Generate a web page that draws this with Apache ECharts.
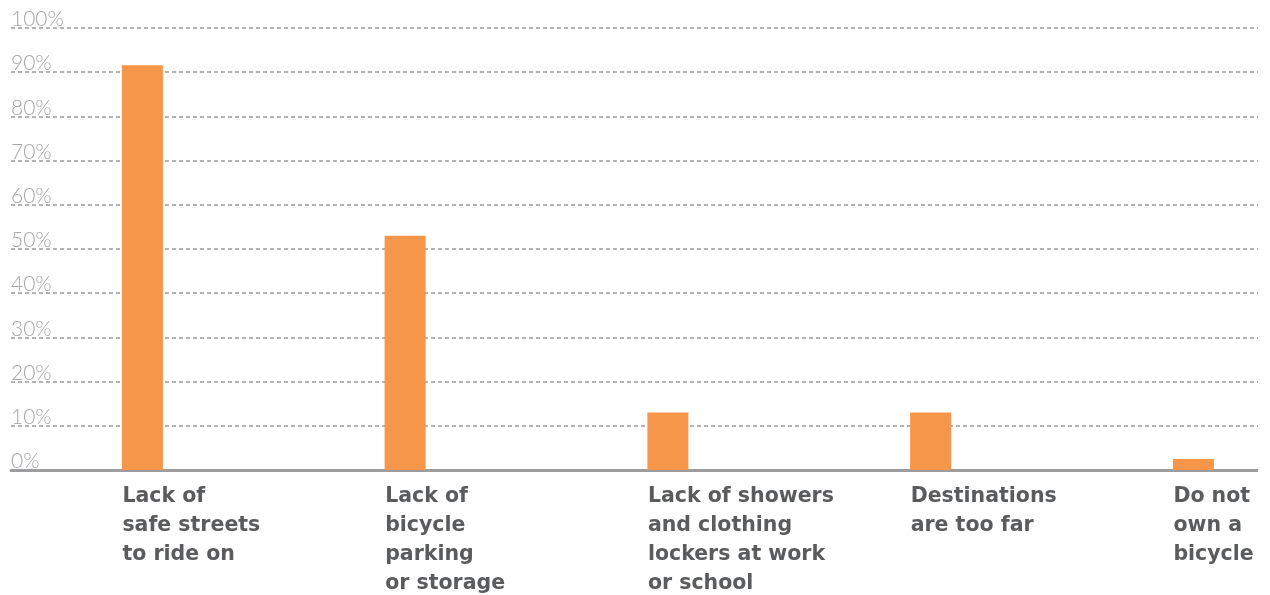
<!DOCTYPE html>
<html>
<head>
<meta charset="utf-8">
<script src="https://cdn.jsdelivr.net/npm/echarts@6/dist/echarts.min.js"></script>
<style>
  html, body { margin: 0; padding: 0; background: #ffffff; overflow: hidden; }
  /* the plot runs past the right edge; the frame trims it */
  #frame { width: 1258px; height: 595px; overflow: hidden; }
  #chart { width: 1330px; height: 595px; }
</style>
</head>
<body>
<div id="frame"><div id="chart"></div></div>
<script>
// Barriers to riding a bicycle (share of respondents)
const categories = [
  'Lack of\nsafe streets\nto ride on',
  'Lack of\nbicycle\nparking\nor storage',
  'Lack of showers\nand clothing\nlockers at work\nor school',
  'Destinations\nare too far',
  'Do not\nown a\nbicycle'
];
const shares = [91.6, 53, 13, 13, 2.5];
const yTicks = [0, 10, 20, 30, 40, 50, 60, 70, 80, 90, 100];

const chart = echarts.init(document.getElementById('chart'), null, { renderer: 'canvas' });

chart.setOption({
  animation: false,
  backgroundColor: '#ffffff',
  grid: {
    left: 11, top: 28, right: 5.25, height: 442,
    containLabel: false,
    outerBoundsMode: 'none'
  },
  xAxis: {
    type: 'category',
    data: categories,
    boundaryGap: true,
    axisLine: { show: true, lineStyle: { color: '#9d9d9f', width: 3 } },
    axisTick: { show: false },
    splitLine: { show: false },
    axisLabel: {
      interval: 0,
      align: 'left',
      verticalAlign: 'top',
      margin: 12,
      padding: [0, 0, 0, -20],
      color: '#5a5b5d',
      fontFamily: 'DejaVu Sans',
      fontWeight: 'bold',
      fontSize: 20.5,
      lineHeight: 29
    }
  },
  yAxis: {
    type: 'value',
    min: yTicks[0],
    max: yTicks[yTicks.length - 1],
    interval: 10,
    axisLine: { show: false },
    axisTick: { show: false },
    splitLine: {
      show: true,
      lineStyle: { color: '#9a9a9a', width: 1.5, type: [4, 3] }
    },
    axisLabel: {
      inside: true,
      margin: 0,
      align: 'left',
      verticalAlign: 'bottom',
      padding: [0, 0, -2, 0],
      color: '#a4a6a9',
      fontFamily: 'Lato',
      fontWeight: 300,
      fontSize: 21,
      formatter: v => v + '%'
    }
  },
  series: [{
    type: 'bar',
    data: shares,
    barWidth: 41,
    itemStyle: { color: '#f5964a' },
    z: 3
  }]
});
</script>
</body>
</html>
